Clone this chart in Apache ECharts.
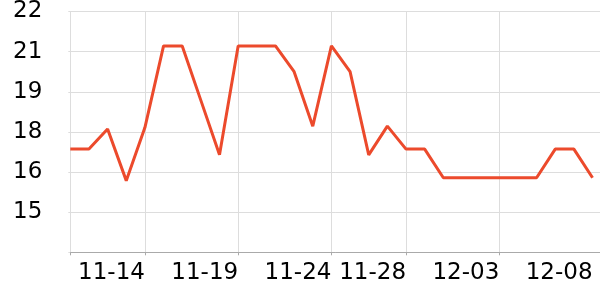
<!DOCTYPE html>
<html>
<head>
<meta charset="utf-8">
<script src="https://cdn.jsdelivr.net/npm/echarts@6/dist/echarts.min.js"></script>
<style>html,body{margin:0;padding:0;background:#fff}#c{width:600px;height:300px}</style>
</head>
<body>
<div id="c"></div>
<script>
const dates = ['11-10','11-11','11-12','11-13','11-14','11-15','11-16','11-17','11-18','11-19',
  '11-20','11-21','11-22','11-23','11-24','11-25','11-26','11-27','11-28','11-29',
  '11-30','12-01','12-02','12-03','12-04','12-05','12-06','12-07','12-08'];
const values = [17.2,17.2,17.9,16.1,17.95,20.8,20.8,18.9,17.0,20.8,
  20.8,20.8,19.9,18.0,20.8,19.9,17.0,18.0,17.2,17.2,
  16.2,16.2,16.2,16.2,16.2,16.2,17.2,17.2,16.2];
const xTickIdx = [0,4,9,14,18,23];
const xLabelIdx = [4,9,14,18,23,28];
const yTicks = [13.6,15,16.4,17.8,19.2,20.6,22];
const yLabels = [15,16.4,17.8,19.2,20.6,22];

const chart = echarts.init(document.getElementById('c'), null, {renderer:'canvas'});
chart.setOption({
  animation: false,
  grid: {left: 70.3, right: 0, top: 10.3, bottom: 47.7, containLabel: false},
  xAxis: {
    type: 'value', min: 0, max: 28.4,
    axisLine: {show: true, lineStyle: {color: '#aaaaaa', width: 1}},
    axisTick: {show: true, length: 3, customValues: xTickIdx, lineStyle: {color: '#aaaaaa'}},
    axisLabel: {customValues: xLabelIdx, align: 'right', margin: 9,
      fontFamily: 'DejaVu Sans', fontSize: 23, color: '#000',
      formatter: v => dates[Math.round(v)]},
    splitLine: {show: true, lineStyle: {color: '#dddddd', width: 1}}
  },
  yAxis: {
    type: 'value', min: 13.6, max: 22,
    axisLine: {show: true, lineStyle: {color: '#dddddd', width: 1}},
    axisTick: {show: true, length: 2, customValues: yTicks, lineStyle: {color: '#dddddd'}},
    axisLabel: {customValues: yLabels, margin: 28, fontFamily: 'DejaVu Sans', fontSize: 23, color: '#000',
      formatter: v => String(Math.round(v))},
    splitLine: {show: true, lineStyle: {color: '#dddddd', width: 1}}
  },
  series: [{
    type: 'line',
    data: dates.map((d, i) => [i, values[i]]),
    showSymbol: false,
    symbol: 'none',
    lineStyle: {color: '#ec4a2c', width: 3},
    itemStyle: {color: '#ec4a2c'}
  }]
});
</script>
</body>
</html>
